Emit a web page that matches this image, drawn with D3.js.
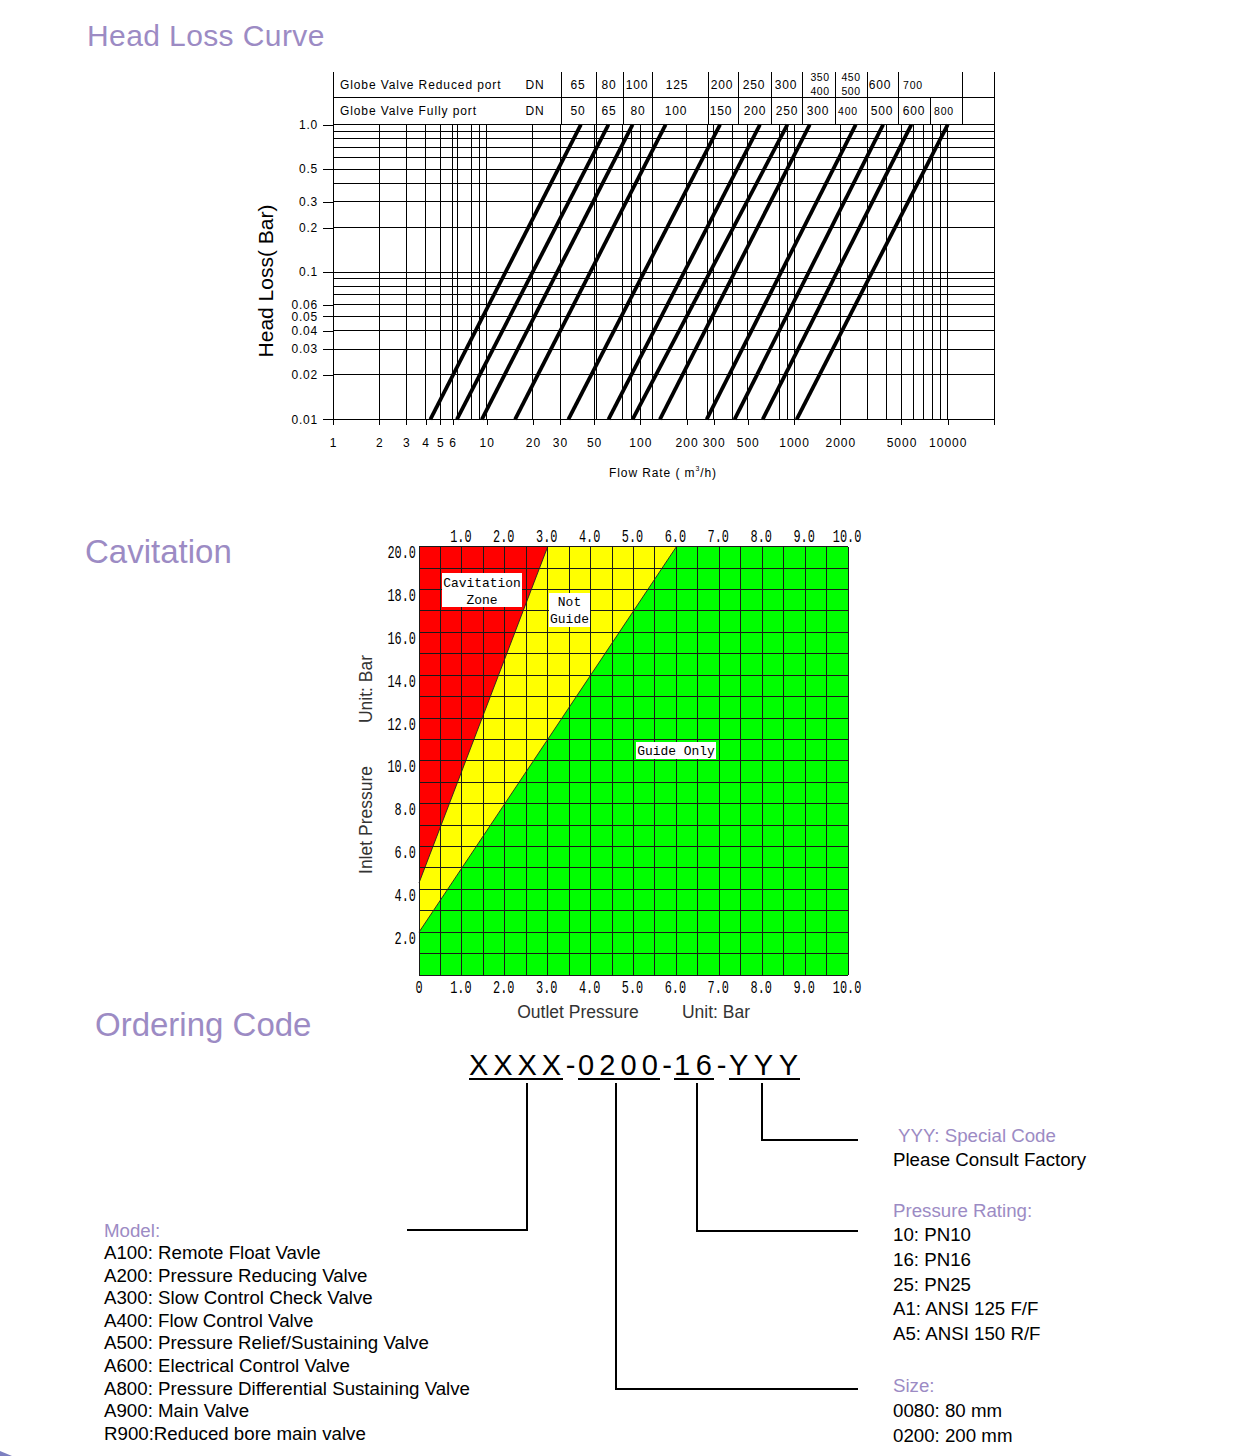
<!DOCTYPE html>
<html><head><meta charset="utf-8">
<script src="https://cdn.jsdelivr.net/npm/d3@7"></script>
<style>
html,body{margin:0;padding:0;background:#fff;}
svg{display:block;}
</style></head>
<body>
<svg id="c" width="1241" height="1456"></svg>
<script>
// ================= DATA =================
// --- Head loss curve ---
const xTickValues = [1,2,3,4,5,6,10,20,30,50,100,200,300,500,1000,2000,5000,10000];
const yTickValues = [1,0.5,0.3,0.2,0.1,0.06,0.05,0.04,0.03,0.02,0.01];
const yTickLabels = ["1.0","0.5","0.3","0.2","0.1","0.06","0.05","0.04","0.03","0.02","0.01"];
const xGridValues = [2,3,4,5,6,6.5,8,9,10,20,30,50,52,77,88,100,120,200,275,300,400,500,800,900,1000,2000,3000,4000,5000,6000,7000,8000,9000,10000];
const yGridValues = [1,0.9,0.8,0.7,0.6,0.5,0.4,0.3,0.2,0.1,0.09,0.08,0.07,0.06,0.05,0.04,0.03,0.02,0.01];
const flowAt1Bar   = [41,62,89,146,330,600,905,1265,2520,3800,5800,10000];
const flowAt001Bar = [4.3,6.4,9.3,15.3,34,62,89,134,270,410,625,1040];
const reducedPortDN = ["65","80","100","125","200","250","300","350/400","450/500","600","700"];
const fullPortDN    = ["50","65","80","100","150","200","250","300","400","500","600","800"];
// --- Cavitation ---
const cavXTicks = [1,2,3,4,5,6,7,8,9,10];
const cavYTicks = [2,4,6,8,10,12,14,16,18,20];
const cavitationBoundary = [[0,4.3],[3,20]];
const guideBoundary = [[0,2],[6,20]];
// --- Ordering code ---
const codeSegments = ["XXXX","0200","16","YYY"];
const modelList = ["A100: Remote Float Vavle","A200: Pressure Reducing Valve","A300: Slow Control Check Valve",
  "A400: Flow Control Valve","A500: Pressure Relief/Sustaining Valve","A600: Electrical Control Valve",
  "A800: Pressure Differential Sustaining Valve","A900: Main Valve","R900:Reduced bore main valve"];
const pressureList = ["10: PN10","16: PN16","25: PN25","A1: ANSI 125 F/F","A5: ANSI 150 R/F"];
const sizeList = ["0080: 80 mm","0200: 200 mm"];

// ================= LAYOUT =================
const LAV = "#9c8bc4";
const SANS = "'Liberation Sans', Arial, sans-serif";
const svg = d3.select("#c");

// ---------- Titles ----------
svg.append("text").attr("x",87).attr("y",46).attr("font-family",SANS).attr("font-size",30)
  .attr("fill",LAV).attr("letter-spacing",0.4).text("Head Loss Curve");
svg.append("text").attr("x",85).attr("y",563).attr("font-family",SANS).attr("font-size",33)
  .attr("fill",LAV).text("Cavitation");
svg.append("text").attr("x",95).attr("y",1036).attr("font-family",SANS).attr("font-size",33)
  .attr("fill",LAV).text("Ordering Code");

// ================= HEAD LOSS CHART =================
const hl = svg.append("g");
const x = d3.scaleLog().domain([1,20000]).range([333,994]);
const y = d3.scaleLog().domain([0.01,1]).range([419.3,124.7]);
const X0 = x.range()[0], X1 = x.range()[1], Y0 = y(0.01), Y1 = y(1);

// table
const tTop = 72, tMid = 97;
const row1Div = [333,561,596,623,652,708,738,771,802,835,867,898,962,994];
const row2Div = [333,561,596,623,652,708,738,771,802,835,867,898,930,962,994];
const row1TextX = [578,609,637,677,722,754,786,820,851,880,913];
const row2TextX = [578,609,638,676,721,755,787,818,848,882,914,944];
const tg = hl.append("g").attr("stroke","#000").attr("stroke-width",1).attr("shape-rendering","crispEdges");
row1Div.forEach(d=>tg.append("line").attr("x1",d).attr("x2",d).attr("y1",tTop).attr("y2",tMid));
row2Div.forEach(d=>tg.append("line").attr("x1",d).attr("x2",d).attr("y1",tMid).attr("y2",Y1));
tg.append("line").attr("x1",X0).attr("x2",X1).attr("y1",tMid).attr("y2",tMid);

const tt = hl.append("g").attr("font-family",SANS).attr("font-size",12).attr("fill","#000");
tt.append("text").attr("x",340).attr("y",89).attr("letter-spacing",0.9).text("Globe Valve Reduced port");
tt.append("text").attr("x",340).attr("y",115).attr("letter-spacing",0.9).text("Globe Valve Fully port");
tt.append("text").attr("x",535).attr("y",89).attr("text-anchor","middle").attr("letter-spacing",0.8).text("DN");
tt.append("text").attr("x",535).attr("y",115).attr("text-anchor","middle").attr("letter-spacing",0.8).text("DN");
reducedPortDN.forEach((d,i)=>{
  if(d.includes("/")){
    const p=d.split("/");
    tt.append("text").attr("x",row1TextX[i]).attr("y",81).attr("font-size",10.5).attr("text-anchor","middle").attr("letter-spacing",0.5).text(p[0]);
    tt.append("text").attr("x",row1TextX[i]).attr("y",95).attr("font-size",10.5).attr("text-anchor","middle").attr("letter-spacing",0.5).text(p[1]);
  } else {
    tt.append("text").attr("x",row1TextX[i]).attr("y",89).attr("text-anchor","middle")
      .attr("font-size",d==="700"?10.5:12).attr("letter-spacing",0.8).text(d);
  }
});
fullPortDN.forEach((d,i)=>{
  tt.append("text").attr("x",row2TextX[i]).attr("y",115).attr("text-anchor","middle")
    .attr("font-size",(d==="400"||d==="800")?10.5:12).attr("letter-spacing",0.8).text(d);
});

// grid
const gg = hl.append("g").attr("stroke","#000").attr("stroke-width",1).attr("shape-rendering","crispEdges");
gg.selectAll(".hg").data(yGridValues).join("line")
  .attr("x1",X0).attr("x2",X1).attr("y1",d=>y(d)).attr("y2",d=>y(d));
gg.selectAll(".vg").data(xGridValues).join("line")
  .attr("x1",d=>x(d)).attr("x2",d=>x(d)).attr("y1",Y1).attr("y2",Y0);
gg.append("line").attr("x1",X0).attr("x2",X0).attr("y1",tTop).attr("y2",Y0+6);
gg.append("line").attr("x1",X1).attr("x2",X1).attr("y1",tTop).attr("y2",Y0+6);

// curves
const lineGen = d3.line().x(d=>x(d[0])).y(d=>y(d[1]));
hl.append("g").selectAll("path").data(flowAt1Bar.map((q,i)=>[[flowAt001Bar[i],0.01],[q,1]]))
  .join("path").attr("d",lineGen).attr("stroke","#000").attr("stroke-width",3.8).attr("fill","none");

// axes
const xAxis = d3.axisBottom(x).tickValues(xTickValues).tickSize(6).tickPadding(13)
  .tickFormat(d=>String(d));
const gx = hl.append("g").attr("transform",`translate(0,${Y0})`).call(xAxis);
gx.select(".domain").remove();
gx.selectAll(".tick line").attr("stroke","#000").attr("shape-rendering","crispEdges");
gx.selectAll(".tick text").attr("font-family",SANS).attr("font-size",12).attr("letter-spacing",1).attr("fill","#000");

const yAxis = d3.axisLeft(y).tickValues(yTickValues).tickSize(10).tickPadding(5)
  .tickFormat((d,i)=>yTickLabels[i]);
const gy = hl.append("g").attr("transform",`translate(${X0},0)`).call(yAxis);
gy.select(".domain").remove();
gy.selectAll(".tick line").attr("stroke","#000").attr("shape-rendering","crispEdges");
gy.selectAll(".tick text").attr("font-family",SANS).attr("font-size",12).attr("letter-spacing",0.8).attr("fill","#000");

// axis titles
const ft = hl.append("text").attr("x",663).attr("y",477).attr("text-anchor","middle")
  .attr("font-family",SANS).attr("font-size",12).attr("letter-spacing",0.9).attr("fill","#000");
ft.append("tspan").text("Flow Rate (  m");
ft.append("tspan").attr("font-size",7).attr("dy",-6).text("3");
ft.append("tspan").attr("dy",6).text("/h)");
hl.append("text").attr("transform","translate(273,281) rotate(-90)").attr("text-anchor","middle")
  .attr("font-family",SANS).attr("font-size",21).attr("fill","#000").text("Head Loss(  Bar)");

// ================= CAVITATION CHART =================
const cv = svg.append("g");
const cx = d3.scaleLinear().domain([0,10]).range([419,848]);
const cy = d3.scaleLinear().domain([0,20]).range([975,546.7]);
const poly = pts => "M" + pts.map(p=>cx(p[0])+","+cy(p[1])).join("L") + "Z";

cv.append("rect").attr("x",cx(0)).attr("y",cy(20)).attr("width",cx(10)-cx(0)).attr("height",cy(0)-cy(20)).attr("fill","#00ff00");
cv.append("path").attr("d",poly([guideBoundary[0],guideBoundary[1],[0,20]])).attr("fill","#ffff00");
cv.append("path").attr("d",poly([cavitationBoundary[0],cavitationBoundary[1],[0,20]])).attr("fill","#ff0000");

const cg = cv.append("g").attr("stroke","#1a1a1a").attr("stroke-width",1).attr("shape-rendering","crispEdges");
cg.selectAll(".v").data(d3.range(0,10.01,0.5)).join("line")
  .attr("x1",d=>cx(d)).attr("x2",d=>cx(d)).attr("y1",cy(20)).attr("y2",cy(0));
cg.selectAll(".h").data(d3.range(0,20.01,1)).join("line")
  .attr("x1",cx(0)).attr("x2",cx(10)).attr("y1",d=>cy(d)).attr("y2",d=>cy(d));

const bl = d3.line().x(d=>cx(d[0])).y(d=>cy(d[1]));
[cavitationBoundary,guideBoundary].forEach(b=>cv.append("path").attr("d",bl(b)).attr("stroke","#222").attr("stroke-width",0.9).attr("fill","none"));

const MONO = "'Liberation Mono','DejaVu Sans Mono',monospace";
function monoText(g,x0,y0,str,anchor,size,sx){
  g.append("text").attr("transform",`translate(${x0},${y0}) scale(${sx||0.66},1)`)
   .attr("text-anchor",anchor||"middle").attr("font-family",MONO).attr("font-size",size||18)
   .attr("fill","#000").text(str);
}
const fmt = d=> d.toFixed(1);
cavXTicks.forEach(d=>monoText(cv,cx(d)-1,542,fmt(d)));
cavXTicks.forEach(d=>monoText(cv,cx(d)-1,993,fmt(d)));
monoText(cv,cx(0),993,"0");
cavYTicks.forEach(d=>monoText(cv,416,cy(d)+11.5,fmt(d),"end"));

// label boxes
function box(x0,y0,w,h,lines,ys){
  cv.append("rect").attr("x",x0).attr("y",y0).attr("width",w).attr("height",h).attr("fill","#fff");
  lines.forEach((t,i)=>monoText(cv,x0+w/2,ys[i],t,"middle",13.5,0.96));
}
box(442,573,80,34,["Cavitation","Zone"],[587,604]);
box(549,593,41,34,["Not","Guide"],[606,623]);
box(636,742,80,17,["Guide Only"],[755]);

// axis titles
cv.append("text").attr("transform","translate(372,820) rotate(-90)").attr("text-anchor","middle")
  .attr("font-family",SANS).attr("font-size",17.5).attr("fill","#333").text("Inlet Pressure");
cv.append("text").attr("transform","translate(372,689) rotate(-90)").attr("text-anchor","middle")
  .attr("font-family",SANS).attr("font-size",17.5).attr("fill","#333").text("Unit: Bar");
cv.append("text").attr("x",578).attr("y",1018).attr("text-anchor","middle")
  .attr("font-family",SANS).attr("font-size",17.5).attr("fill","#333").text("Outlet Pressure");
cv.append("text").attr("x",716).attr("y",1018).attr("text-anchor","middle")
  .attr("font-family",SANS).attr("font-size",17.5).attr("fill","#333").text("Unit: Bar");

// ================= ORDERING CODE =================
const oc = svg.append("g");
const segX = [[469,563],[578,660],[674,714],[729,800]];
const dashX = [[563,578],[660,674],[714,729]];
codeSegments.forEach((s,i)=>{
  oc.append("text").attr("x",segX[i][0]).attr("y",1075).attr("font-family",SANS).attr("font-size",29)
    .attr("textLength",segX[i][1]-segX[i][0]-2).attr("lengthAdjust","spacing").attr("fill","#000").text(s);
  oc.append("line").attr("x1",segX[i][0]).attr("x2",segX[i][1]).attr("y1",1079).attr("y2",1079)
    .attr("stroke","#000").attr("stroke-width",2);
});
dashX.forEach(d=>oc.append("text").attr("x",(d[0]+d[1])/2).attr("y",1075).attr("text-anchor","middle")
  .attr("font-family",SANS).attr("font-size",29).attr("fill","#000").text("-"));

const conn = [
  [[527,1083],[527,1230],[407,1230]],
  [[616,1083],[616,1389],[858,1389]],
  [[697,1083],[697,1231],[858,1231]],
  [[762,1083],[762,1140],[858,1140]]
];
conn.forEach(c=>oc.append("path").attr("d",d3.line()(c)).attr("fill","none").attr("stroke","#000").attr("stroke-width",2));

const tx = (x0,y0,s,col)=>oc.append("text").attr("x",x0).attr("y",y0).attr("font-family",SANS)
  .attr("font-size",18.7).attr("fill",col||"#000").text(s);
tx(898,1142,"YYY: Special Code",LAV);
tx(893,1166,"Please Consult Factory");
tx(893,1217,"Pressure Rating:",LAV);
pressureList.forEach((s,i)=>tx(893,1241+i*24.8,s));
tx(893,1392,"Size:",LAV);
sizeList.forEach((s,i)=>tx(893,1417+i*25,s));
tx(104,1237,"Model:",LAV);
modelList.forEach((s,i)=>tx(104,1259+i*22.6,s));

// corner decoration
svg.append("path").attr("d","M0,1451 L12,1456 L0,1456Z").attr("fill","#7d80c0");
</script>
</body></html>
